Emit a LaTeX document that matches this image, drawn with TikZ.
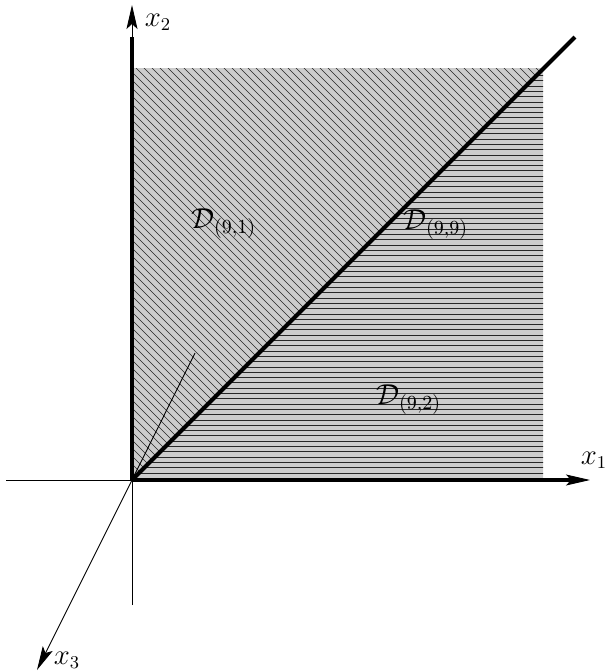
\documentclass[tikz,border=0pt]{standalone}
\usetikzlibrary{arrows.meta}
\begin{document}
\begin{tikzpicture}[x=0.5pt,y=-0.5pt,
  thinaxis/.style={line width=0.45pt,-{Stealth[length=12pt,width=5.5pt,inset=2.5pt]}},
  thickline/.style={line width=2pt},
  hatch/.style={line width=0.3pt,black!85},
  axlabel/.style={inner sep=0pt,font=\fontsize{13.5pt}{16pt}\selectfont},
  reglabel/.style={inner sep=0pt,font=\fontsize{14pt}{16pt}\selectfont}]
\useasboundingbox (0,0) rectangle (605,671);
% named points
\coordinate (O) at (132,480);
\coordinate (TL) at (132,68);
\coordinate (TR) at (543,68);
\coordinate (BR) at (543,480);
\coordinate (Xend) at (590,480);
\coordinate (Xstart) at (6,480);
\coordinate (Yend) at (132,5);
\coordinate (Ystart) at (132,605);
\coordinate (Zend) at (37,670);
\coordinate (Zhid) at (195,353);
\coordinate (Dend) at (575,37);
\coordinate (X1t) at (575,480);
\coordinate (X2t) at (132,37);
% upper triangle
\fill[gray!40] (O) -- (TL) -- (TR) -- cycle;
\begin{scope}
  \clip (O) -- (TL) -- (TR) -- cycle;
  \foreach \c in {-356,-348,...,484} {
    \draw[hatch] (\c+40,40) -- (\c+520,520);
  }
\end{scope}
% lower triangle
\fill[gray!40] (O) -- (BR) -- (TR) -- cycle;
\begin{scope}
  \clip (O) -- (BR) -- (TR) -- cycle;
  \foreach \y in {70,75.3,...,480} {
    \draw[hatch] (120,\y) -- (560,\y);
  }
\end{scope}
% axes
\draw[thinaxis] (Xstart) -- (Xend);
\draw[thinaxis] (Ystart) -- (Yend);
\draw[thinaxis] (O) -- (Zend);
\draw[line width=0.45pt] (O) -- (Zhid);
% thick boundaries
\draw[thickline] (O) -- (X1t);
\draw[thickline] (O) -- (X2t);
\draw[thickline] (O) -- (Dend);
% labels
\node[axlabel] (lx2) at (158,22) {$x_2$};
\node[axlabel] (lx1) at (594,460) {$x_1$};
\node[axlabel] (lx3) at (67,660) {$x_3$};
\node[reglabel] (d91) at (224,224) {$\mathcal{D}_{(9,1)}$};
\node[reglabel] (d99) at (436,225) {$\mathcal{D}_{(9,9)}$};
\node[reglabel] (d92) at (409,400) {$\mathcal{D}_{(9,2)}$};
\end{tikzpicture}
\end{document}
